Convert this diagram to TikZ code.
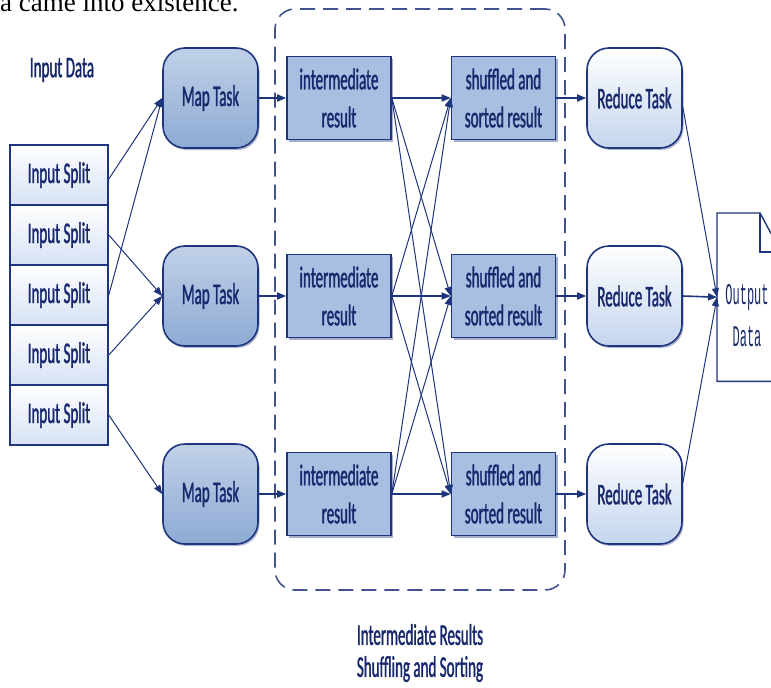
\documentclass[tikz,border=0pt]{standalone}
\usepackage{fontspec}
\usetikzlibrary{arrows.meta}
\usetikzlibrary{shadows}
\newfontfamily\boxfont[FakeStretch=0.5,FakeBold=1.2]{Carlito}
\newfontfamily\docfont[FakeStretch=0.4]{Liberation Mono}
\newfontfamily\pagefont{Liberation Serif}
\definecolor{navy}{RGB}{30,52,125}
\definecolor{inknavy}{RGB}{24,40,108}
\definecolor{splitblue}{RGB}{214,226,244}
\definecolor{mapblue}{RGB}{142,170,212}
\definecolor{resultblue}{RGB}{168,191,225}
\definecolor{reduceblue}{RGB}{196,213,238}

\begin{document}
\begin{tikzpicture}[x=1pt,y=-1pt,
	font=\boxfont\fontsize{30}{38}\selectfont, text=inknavy,
	split/.style={draw=navy,line width=1.6pt,top color=white,bottom color=splitblue,
		minimum width=98pt,minimum height=60pt,inner sep=0pt},
	task/.style={draw=navy,line width=1.6pt,rounded corners=22pt,
		minimum width=95pt,minimum height=100pt,inner sep=0pt,
		drop shadow={shadow xshift=1.5pt,shadow yshift=-2pt,fill=navy,opacity=0.35}},
	maptask/.style={task,top color=mapblue!55!white,bottom color=mapblue},
	reducetask/.style={task,top color=white,bottom color=reduceblue},
	result/.style={draw=navy,line width=1.6pt,fill=resultblue,align=center,
		minimum width=104pt,minimum height=83pt,inner sep=0pt,
		drop shadow={shadow xshift=2pt,shadow yshift=-2.5pt,fill=navy,opacity=0.4}},
	group/.style={draw=navy!85,line width=1.6pt,dash pattern=on 15pt off 8pt,
		rounded corners=20pt,minimum width=290pt,minimum height=581pt},
	flow/.style={navy,line width=1.6pt,-{Triangle[length=9pt,width=7pt]}},
	feed/.style={navy,line width=1pt,-{Triangle[length=9pt,width=7pt]}}
	]
	\useasboundingbox (0,0) rectangle (771,688);

	\node[anchor=base west,inner sep=0pt,text=black,font=\pagefont\fontsize{27}{30}\selectfont]
		(pagetext) at (0,12) {a came into existence.};

	\node[group] (shufflearea) at (420,299.5) {};

	\node (inputlabel) at (62,70) {Input Data};
	\node[split] (split1) at (59,175) {Input Split};
	\node[split] (split2) at (59,235) {Input Split};
	\node[split] (split3) at (59,295) {Input Split};
	\node[split] (split4) at (59,355) {Input Split};
	\node[split] (split5) at (59,415) {Input Split};

	\node[maptask] (map1) at (210.5,98) {Map Task};
	\node[maptask] (map2) at (210.5,296) {Map Task};
	\node[maptask] (map3) at (210.5,494) {Map Task};

	\node[result] (inter1) at (339,98) {intermediate\\result};
	\node[result] (inter2) at (339,296) {intermediate\\result};
	\node[result] (inter3) at (339,494) {intermediate\\result};

	\node[result] (sorted1) at (503.5,98) {shuffled and\\sorted result};
	\node[result] (sorted2) at (503.5,296) {shuffled and\\sorted result};
	\node[result] (sorted3) at (503.5,494) {shuffled and\\sorted result};

	\node[reducetask] (reduce1) at (634.5,98) {Reduce Task};
	\node[reducetask] (reduce2) at (634.5,296) {Reduce Task};
	\node[reducetask] (reduce3) at (634.5,494) {Reduce Task};

	\node[anchor=north west,minimum width=64pt,minimum height=168pt,inner sep=0pt]
		(outdoc) at (717,213) {};
	\draw[navy,line width=1.4pt] (outdoc.south east) -- (outdoc.south west) -- (outdoc.north west)
		-- ++(43,0) coordinate (fold) -- ++(21,39) -- (outdoc.south east);
	\draw[navy,line width=1.4pt] (fold) -- ++(0,39) -- ++(21,0);
	\node[font=\docfont\fontsize{30}{42}\selectfont,align=center] (outtext) at (747,316) {Output\\Data};

	\node[align=center,font=\boxfont\fontsize{30}{32}\selectfont] (caption) at (420,653)
		{Intermediate Results\\Shuffling and Sorting};

	\draw[feed] ([yshift=-4pt]split1.east) -- (map1.west);
	\draw[feed] (split3.east) -- (map1.west);
	\draw[feed] (split2.east) -- (map2.west);
	\draw[feed] (split4.east) -- (map2.west);
	\draw[feed] (split5.east) -- (map3.west);

	\draw[flow] (map1) -- (inter1);
	\draw[flow] (map2) -- (inter2);
	\draw[flow] (map3) -- (inter3);

	\draw[flow] (inter1) -- (sorted1);
	\draw[feed] (inter1.east) -- (sorted2.west);
	\draw[feed] (inter1.east) -- (sorted3.west);
	\draw[feed] (inter2.east) -- (sorted1.west);
	\draw[flow] (inter2) -- (sorted2);
	\draw[feed] (inter2.east) -- (sorted3.west);
	\draw[feed] (inter3.east) -- (sorted1.west);
	\draw[feed] (inter3.east) -- (sorted2.west);
	\draw[flow] (inter3) -- (sorted3);

	\draw[flow] (sorted1) -- (reduce1);
	\draw[flow] (sorted2) -- (reduce2);
	\draw[flow] (sorted3) -- (reduce3);

	\draw[feed] ([yshift=-9pt]reduce1.east) -- (outdoc.west);
	\draw[flow] (reduce2.east) -- (outdoc.west);
	\draw[feed] ([yshift=11pt]reduce3.east) -- (outdoc.west);
\end{tikzpicture}
\end{document}
